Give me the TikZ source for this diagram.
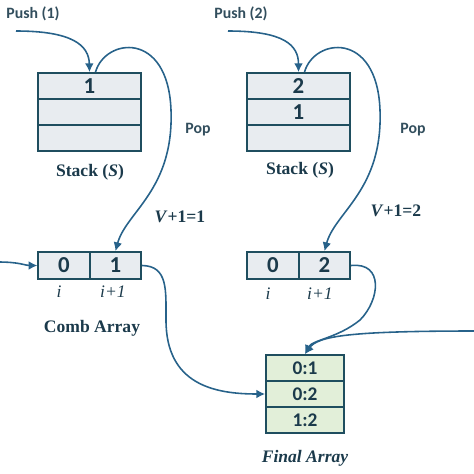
\documentclass[tikz,border=0pt]{standalone}
\usepackage{fontspec}
\setmainfont{Liberation Serif}
\newfontfamily\calibri{Carlito}
\usetikzlibrary{arrows.meta}
\definecolor{boxline}{HTML}{1F4E5F}
\definecolor{boxfill}{HTML}{E8ECF0}
\definecolor{finalfill}{HTML}{E2EFD9}
\definecolor{arrowblue}{HTML}{27628A}
\definecolor{celltext}{HTML}{1B3A4B}
\begin{document}
\begin{tikzpicture}
    [x=0.02cm,y=-0.02cm,%%%%%%%%%%%%%%%%%%%%%%%%%%%%%%
        cell/.style={rectangle,draw=boxline,line width=1pt,fill=boxfill,
            minimum width=2.06cm,minimum height=0.52cm,inner sep=0pt,
            text=celltext,font=\calibri\bfseries\fontsize{13}{14}\selectfont},
        comb/.style={cell,minimum width=1.03cm,minimum height=0.54cm},
        final/.style={cell,fill=finalfill,minimum width=1.56cm,
            font=\calibri\bfseries\fontsize{11}{12}\selectfont},
        flow/.style={draw=arrowblue,line width=0.9pt,-{Latex[length=5pt,width=5pt]}},
        sans/.style={text=celltext!90,font=\calibri\bfseries\fontsize{9}{10}\selectfont},
        caption/.style={text=celltext,font=\bfseries\fontsize{10}{11}\selectfont},
        idx/.style={text=celltext,font=\itshape\fontsize{10}{11}\selectfont},
    ]%%%%%%%%%%%%%%%%%%%%%%%%%%%%%%
\useasboundingbox (0,0) rectangle (474,474);

% stacks
\foreach \r/\y/\t in {a/86/1,b/112/,c/138/}
    \node[cell] (s1\r) at (89.5,\y){\t};
\foreach \r/\y/\t in {a/86/2,b/112/1,c/138/}
    \node[cell] (s2\r) at (298.5,\y){\t};

% comb arrays
\node[comb] (c1a) at (64,265.5){0};
\node[comb] (c1b) at (115.5,265.5){1};
\node[comb] (c2a) at (273,265.5){0};
\node[comb] (c2b) at (324.5,265.5){2};

% final array
\foreach \r/\y/\t in {a/368/0:1,b/394/0:2,c/420/1:2}
    \node[final] (f\r) at (305,\y){\t};

% labels
\node[sans] (push1) at (33,14){Push (1)};
\node[sans] (push2) at (241,14){Push (2)};
\node[sans] (pop1) at (198,130){Pop};
\node[sans] (pop2) at (413,130){Pop};
\node[caption] (st1) at (90,172){Stack (\textit{S})};
\node[caption] (st2) at (300,170){Stack (\textit{S})};
\node[caption] (v0) at (6,226)[anchor=east]{\textit{V}+1=0};
\node[caption] (v1) at (180,217){\textit{V}+1=1};
\node[caption] (v2) at (396,211){\textit{V}+1=2};
\node[idx] (i1) at (59,292){i};
\node[idx] (j1) at (113,292){i+1};
\node[idx] (i2) at (268,294){i};
\node[idx] (j2) at (320,294){i+1};
\node[caption] (cap1) at (92,328){Comb Array};
\node[caption,font=\bfseries\itshape\fontsize{10}{11}\selectfont] (cap2) at (305,458){Final Array};

% free ends
\coordinate (p1) at (16,31);
\coordinate (p2) at (228,31);
\coordinate (in1) at (-2,262);
\coordinate (in2) at (476,331);

% push / pop
\draw[flow] (p1) .. controls (72,31) and (89,45) .. (s1a.north);
\draw[flow] (p2) .. controls (284,31) and (298.5,45) .. (s2a.north);
\draw[flow] ([xshift=0.12cm]s1a.north) .. controls (105,38) and (168,30) .. (171,110)
    .. controls (174,190) and (126,212) .. (c1b.north);
\draw[flow] ([xshift=0.12cm]s2a.north) .. controls (314,38) and (377,30) .. (380,110)
    .. controls (383,190) and (335,212) .. (c2b.north);

% into the final array
\draw[flow] (in1) .. controls (20,262) and (25,265.5) .. (c1a.west);
\draw[flow] (c1b.east) .. controls (168,266) and (166,290) .. (166,320)
    .. controls (166,385) and (215,394) .. (fb.west);
\draw[flow] (c2b.east) .. controls (384,262) and (380,300) .. (360,320)
    .. controls (338,338) and (312,340) .. (fa.north);
\draw[flow] (in2) .. controls (350,331) and (318,336) .. (fa.north);
\end{tikzpicture}
\end{document}
